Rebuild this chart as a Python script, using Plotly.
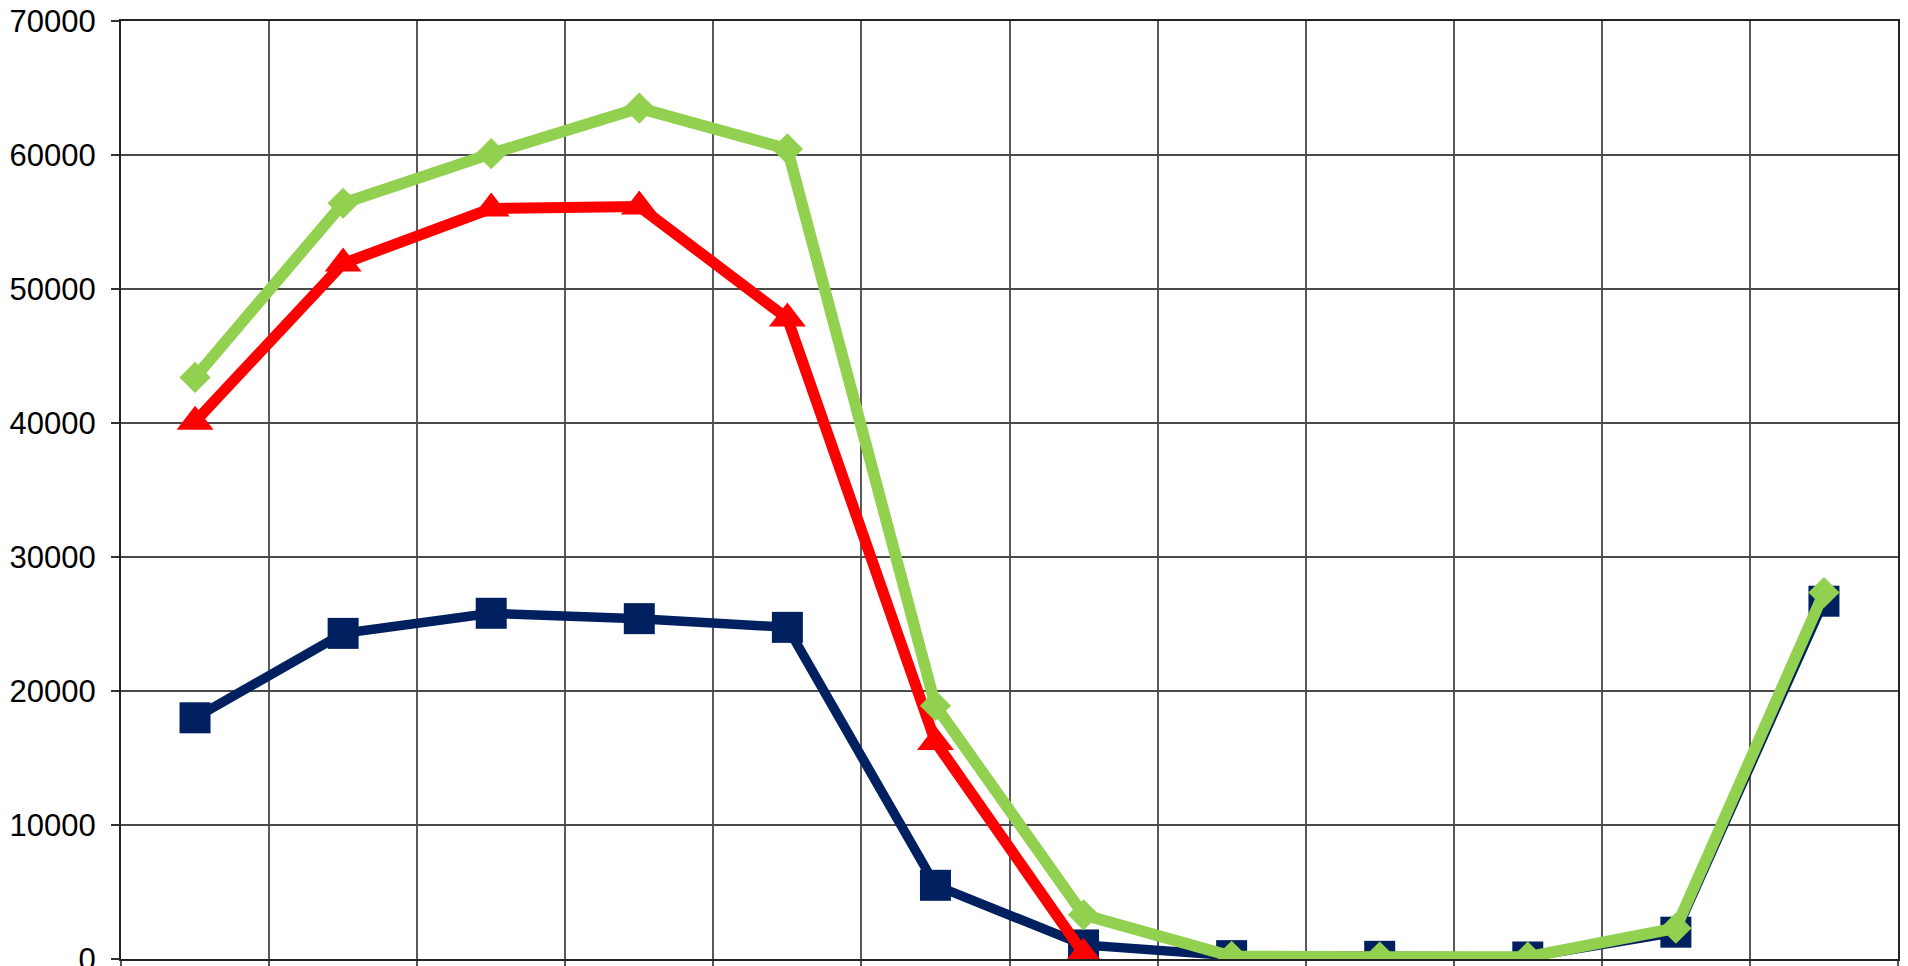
import plotly.graph_objects as go

# Categories (labels are not visible in the reference; 12 periods)
months = ["Jan", "Feb", "Mar", "Apr", "May", "Jun",
          "Jul", "Aug", "Sep", "Oct", "Nov", "Dec"]

# Series values
navy_vals = [18000, 24300, 25800, 25400, 24750, 5500, 1050, 250, 200, 150, 2000, 26700]
red_vals = [40100, 51900, 56000, 56150, 47800, 16200, 400, None, None, None, None, None]
green_vals = [43400, 56400, 60100, 63500, 60450, 18900, 3300, 200, 150, 150, 2300, 27350]

y_ticks = [0, 10000, 20000, 30000, 40000, 50000, 60000, 70000]

fig = go.Figure()

fig.add_trace(go.Scatter(
    x=months, y=navy_vals, mode="lines+markers", name="Series 1",
    line=dict(color="#002060", width=9.5),
    marker=dict(symbol="square", size=31, color="#002060", line=dict(width=0)),
))
fig.add_trace(go.Scatter(
    x=months, y=red_vals, mode="lines+markers", name="Series 2",
    line=dict(color="#FF0000", width=11),
    marker=dict(symbol="triangle-up", size=32, color="#FF0000", line=dict(width=0)),
))
fig.add_trace(go.Scatter(
    x=months, y=green_vals, mode="lines+markers", name="Series 3",
    line=dict(color="#92D050", width=11.5),
    marker=dict(symbol="diamond", size=24, color="#92D050", line=dict(width=0)),
))

# The page body adds an 8px offset, so the figure is 8px smaller and margins shifted
fig.update_layout(
    width=1900, height=958,
    margin=dict(l=113, r=10, t=13, b=7, pad=0),
    paper_bgcolor="white", plot_bgcolor="white",
    showlegend=False,
    font=dict(family="Liberation Sans, Arial, sans-serif", color="black"),
    xaxis=dict(
        type="category", tickson="boundaries", range=[-0.5, 11.5],
        automargin=False,
        showticklabels=False,
        ticks="outside", ticklen=10, tickwidth=1.6, tickcolor="#555555",
        showgrid=True, gridcolor="#5a5a5a", gridwidth=1.6,
        showline=True, linecolor="#222222", linewidth=2, mirror=True,
        zeroline=False,
    ),
    yaxis=dict(
        range=[0, 70000], tickvals=y_ticks, ticktext=[str(v) for v in y_ticks],
        automargin=False, ticklabeloverflow="allow",
        ticks="outside", ticklen=8, tickwidth=1.6, tickcolor="#333333",
        tickfont=dict(family="Liberation Sans, Arial, sans-serif", size=31, color="black"),
        ticklabelstandoff=9,
        showgrid=True, gridcolor="#4a4a4a", gridwidth=1.6,
        showline=True, linecolor="#222222", linewidth=2, mirror=True,
        zeroline=False,
    ),
)

fig.write_html("out.html")
